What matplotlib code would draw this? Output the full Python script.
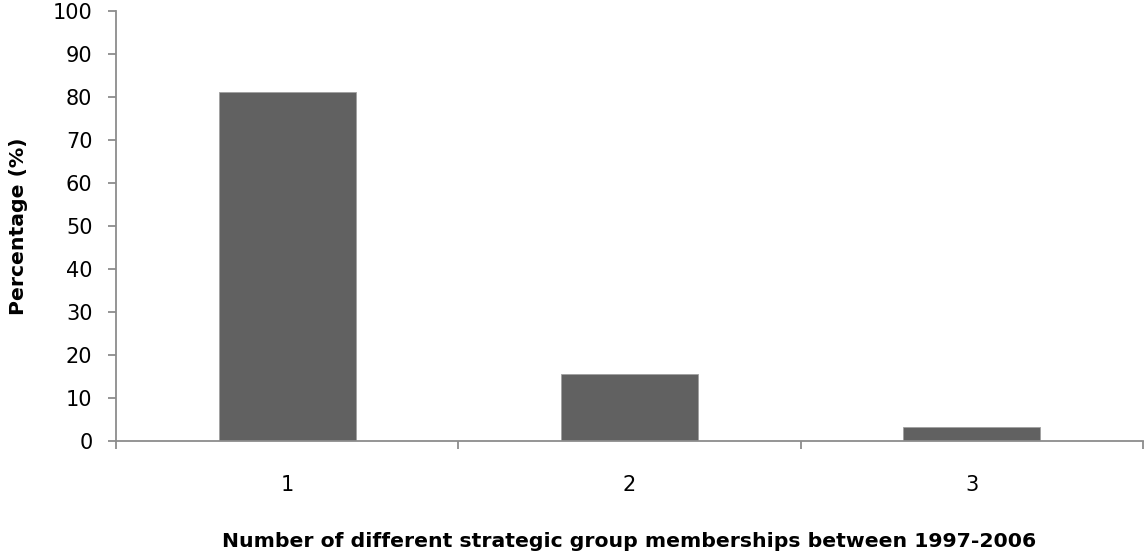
import matplotlib
matplotlib.use("Agg")
import matplotlib.pyplot as plt

categories = ["1", "2", "3"]
percentages = [81.2, 15.6, 3.3]
y_ticks = [0, 10, 20, 30, 40, 50, 60, 70, 80, 90, 100]

plt.rcParams["font.family"] = ["DejaVu Sans"]

W, H = 1145, 551
fig = plt.figure(figsize=(W / 100, H / 100), dpi=100)
ax = fig.add_axes([116 / W, (H - 441.3) / H, (1143 - 116) / W, (441.3 - 11.4) / H])

x = list(range(len(categories)))
ax.bar(x, percentages, width=0.4, color="#616161", edgecolor="#a0a0a0", linewidth=0.6)

ax.set_xlim(-0.5, len(categories) - 0.5)
ax.set_ylim(0, 100)
ax.set_yticks(y_ticks)
ax.set_yticklabels([str(v) for v in y_ticks], fontsize=15)

# category labels centred under bars, tick marks on category boundaries
ax.set_xticks(x)
ax.set_xticklabels(categories, fontsize=15)
ax.tick_params(axis="x", which="major", length=0, pad=24)
ax.set_xticks([-0.5 + i for i in range(len(categories) + 1)], minor=True)
ax.tick_params(axis="x", which="minor", length=6, width=1.3, color="#8c8c8c", direction="out")
ax.tick_params(axis="y", length=6, width=1.3, color="#8c8c8c", direction="out", pad=11)

for side in ["top", "right"]:
    ax.spines[side].set_visible(False)
for side in ["left", "bottom"]:
    ax.spines[side].set_color("#8c8c8c")
    ax.spines[side].set_linewidth(1.3)

ax.set_ylabel("Percentage (%)", fontsize=14.7, fontweight="bold", labelpad=18)
ax.set_xlabel("Number of different strategic group memberships between 1997-2006",
              fontsize=14.7, fontweight="bold", labelpad=27)

fig.savefig("out.png", dpi=100)
